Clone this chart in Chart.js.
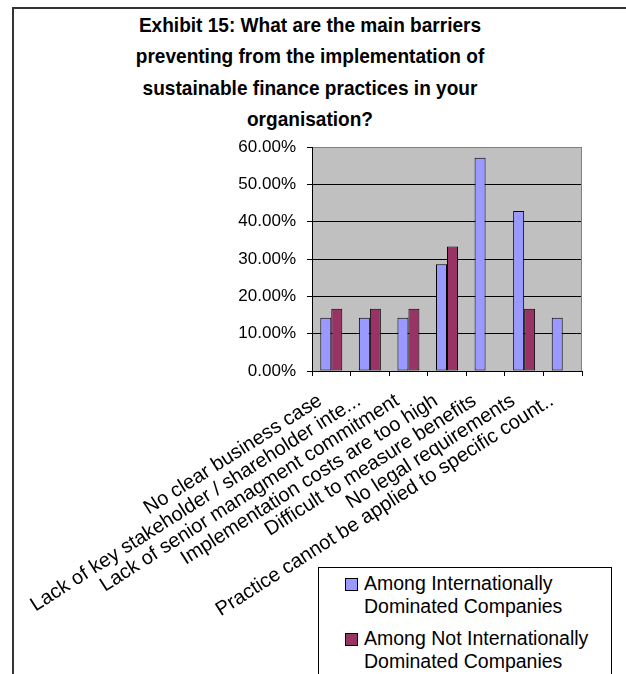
<!DOCTYPE html>
<html>
<head>
<meta charset="utf-8">
<title>Exhibit 15</title>
<script src="https://cdn.jsdelivr.net/npm/chart.js@4.4.0/dist/chart.umd.min.js"></script>
<style>
  html, body { margin: 0; padding: 0; background: #fff; }
  body { width: 626px; height: 674px; position: relative; overflow: hidden; font-family: "Liberation Sans", Arial, sans-serif; }
  #frame { position: absolute; left: 12px; top: 7px; width: 700px; height: 700px; border-left: 2px solid #333; border-top: 2px solid #333; }
  #title { position: absolute; left: 0; top: 9px; width: 620px; text-align: center; font-weight: bold; font-size: 20.5px; line-height: 31.3px; color: #000; transform: scaleX(0.93); transform-origin: 310px 0; }
  #chart-wrap { position: absolute; left: 0; top: 0; width: 626px; height: 674px; }
  #legend { position: absolute; left: 318px; top: 567px; width: 294px; height: 200px; border: 1px solid #000; background: #fff; box-sizing: border-box; padding: 4px 0 0 45px; }
  .legend-item { position: relative; font-size: 19.5px; line-height: 23px; color: #000; margin-bottom: 9px; }
  .legend-box { position: absolute; left: -19px; top: 6px; width: 11px; height: 11px; border: 1px solid #000; }
</style>
</head>
<body>
<div id="frame"></div>
<div id="title">Exhibit 15: What are the main barriers<br>preventing from the implementation of<br>sustainable finance practices in your<br>organisation?</div>
<div id="chart-wrap"><canvas id="barChart" width="626" height="674"></canvas></div>
<div id="legend"></div>
<script>
const categories = [
    'No clear business case',
    'Lack of key stakeholder / shareholder inte...',
    'Lack of senior managment commitment',
    'Implementation costs are too high',
    'Difficult to measure benefits',
    'No legal requirements',
    'Practice cannot be applied to specific count..'
];
const seriesNames = [
    ['Among Internationally', 'Dominated Companies'],
    ['Among Not Internationally', 'Dominated Companies']
];
const internationalValues = [0.1429, 0.1429, 0.1429, 0.2857, 0.5714, 0.4286, 0.1429];
const notInternationalValues = [0.1667, 0.1667, 0.1667, 0.3333, 0, 0.1667, 0];
const yTicks = [0, 0.1, 0.2, 0.3, 0.4, 0.5, 0.6];
const seriesColors = ['#9999FF', '#993366'];

const FONT = '"Liberation Sans", Arial, sans-serif';

// gray plot background + gray right edge, like the old Excel look
const plotBackground = {
    id: 'plotBackground',
    beforeDraw(chart) {
        const { ctx, chartArea: a } = chart;
        ctx.save();
        ctx.fillStyle = '#C0C0C0';
        ctx.fillRect(a.left, a.top, a.right - a.left, a.bottom - a.top);
        ctx.restore();
    },
    beforeDatasetsDraw(chart) {
        const { ctx, chartArea: a } = chart;
        ctx.save();
        ctx.strokeStyle = '#808080';
        ctx.lineWidth = 1;
        ctx.beginPath();
        ctx.moveTo(a.right - 0.5, a.top);
        ctx.lineTo(a.right - 0.5, a.bottom);
        ctx.stroke();
        ctx.restore();
    }
};

const datasets = [internationalValues, notInternationalValues].map((values, i) => ({
    label: seriesNames[i].join(' '),
    data: values,
    backgroundColor: seriesColors[i],
    borderColor: '#000',
    borderWidth: 1,
    borderSkipped: false,
    categoryPercentage: 0.57,
    barPercentage: 1.0
}));

new Chart(document.getElementById('barChart'), {
    type: 'bar',
    data: { labels: categories, datasets: datasets },
    options: {
        responsive: false,
        animation: false,
        layout: { padding: { top: 147, right: 44, bottom: 0, left: 0 } },
        plugins: {
            legend: { display: false },
            title: { display: false },
            tooltip: { enabled: false }
        },
        scales: {
            x: {
                grid: { offset: true, drawOnChartArea: false, tickLength: 5, tickColor: '#000' },
                border: { color: '#000' },
                ticks: {
                    autoSkip: false, minRotation: 32.5, maxRotation: 32.5, padding: 13, labelOffset: -11,
                    color: '#000', font: { family: FONT, size: 20 }
                },
                afterFit: s => { s.height = 674 - 371; }
            },
            y: {
                min: 0,
                max: 0.6,
                afterBuildTicks: s => { s.ticks = yTicks.map(v => ({ value: v })); },
                grid: {
                    color: c => (c.tick && c.tick.value === 0.6) ? '#808080' : '#000',
                    tickColor: '#000',
                    tickLength: 5
                },
                border: { color: '#000' },
                ticks: {
                    padding: 11, color: '#000', font: { family: FONT, size: 17 },
                    callback: v => (v * 100).toFixed(2) + '%'
                },
                afterFit: s => { s.width = 312; }
            }
        }
    },
    plugins: [plotBackground]
});

document.getElementById('legend').innerHTML = seriesNames.map((name, i) => `
    <div class="legend-item">
        <span class="legend-box" style="background:${seriesColors[i]}"></span>
        ${name.join('<br>')}
    </div>
`).join('');
</script>
</body>
</html>
